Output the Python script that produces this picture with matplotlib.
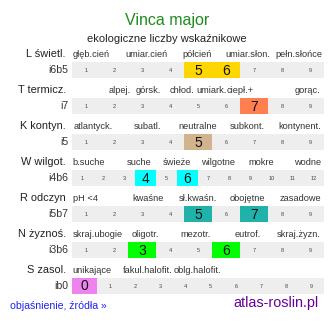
import matplotlib.pyplot as plt

plt.rcParams["font.family"] = ["Liberation Sans", "DejaVu Sans"]

# data
species = "Vinca major"
subtitle = "ekologiczne liczby wskaźnikowe"
row_names = ["L świetl.", "T termicz.", "K kontyn.", "W wilgot.", "R odczyn", "N żyznoś.", "S zasol."]
row_codes = ["i6b5", "i7", "i5", "i4b6", "i5b7", "i3b6", "ib0"]
scale_min = [1, 1, 1, 1, 1, 1, 0]
scale_max = [9, 9, 9, 12, 9, 9, 9]
values = [[5, 6], [7], [5], [4, 6], [5, 7], [3, 6], [0]]
class_labels = [
    ["głęb.cień", "umiar.cień", "półcień", "umiar.słon.", "pełn.słońce"],
    ["alpej.", "górsk.", "chłod.", "umiark.", "ciepł.+", "gorąc."],
    ["atlantyck.", "subatl.", "neutralne", "subkont.", "kontynent."],
    ["b.suche", "suche", "świeże", "wilgotne", "mokre", "wodne"],
    ["pH <4", "kwaśne", "sł.kwaśn.", "obojętne", "zasadowe"],
    ["skraj.ubogie", "oligotr.", "mezotr.", "eutrof.", "skraj.żyzn."],
    ["unikające", "fakul.halofit.", "oblg.halofit."],
]

# layout (pixels)
colors = ["#ffd700", "#ff7f50", "#d2b48c", "#00ffff", "#20b2aa", "#00ff00", "#ee82ee"]
label_x = [
    [91.5, 147, 197.5, 248, 298.5],
    [120, 148.5, 182, 212, 240, 307.5],
    [93, 148, 198, 247.5, 300],
    [89, 139.5, 176.5, 218.5, 261, 307.5],
    [85.5, 148, 198, 247.5, 300.5],
    [98, 145.5, 195.5, 247.5, 299],
    [92, 147.5, 197.5],
]
x0, x1 = 72, 324
row_top = 62
row_step = 36
bar_h = 16

fig = plt.figure(figsize=(3.34, 3.22), dpi=100)
ax = fig.add_axes([0, 0, 1, 1])
ax.set_xlim(0, 334)
ax.set_ylim(322, 0)
ax.axis("off")

ax.text(167, 20, species, ha="center", va="center", fontsize=11.5, color="#1e8c1e")
ax.text(167, 39, subtitle, ha="center", va="center", fontsize=8, color="#222222")

for i, name in enumerate(row_names):
    top = row_top + i * row_step
    ncell = scale_max[i] - scale_min[i] + 1
    w = (x1 - x0) / ncell
    ax.text(66, top - 8, name, ha="right", va="center", fontsize=7.9, color="#222222")
    ax.text(68.5, top + bar_h / 2, row_codes[i], ha="right", va="center", fontsize=7.6, color="#333333")
    for lab, lx in zip(class_labels[i], label_x[i]):
        ax.text(lx, top - 7.5, lab, ha="center", va="center", fontsize=6.7, color="#333333")
    ax.barh(top + bar_h / 2, x1 - x0, left=x0, height=bar_h, color="#eeeeee")
    for k in range(ncell):
        v = scale_min[i] + k
        cx = x0 + (k + 0.5) * w
        if v in values[i]:
            ax.bar(x0 + k * w, bar_h, width=w, bottom=top, align="edge", color=colors[i])
            ax.text(cx, top + bar_h / 2 + 0.5, str(v), ha="center", va="center", fontsize=10, color="#111111")
        else:
            ax.text(cx, top + bar_h / 2 + 0.5, str(v), ha="center", va="center", fontsize=4, color="#444444")

ax.text(10, 306, "objaśnienie, źródła »", ha="left", va="center", fontsize=7.6, color="#2222ee")
ax.text(318, 303, "atlas-roslin.pl", ha="right", va="center", fontsize=10.4, color="#660099")

fig.savefig("out.png", dpi=100)
